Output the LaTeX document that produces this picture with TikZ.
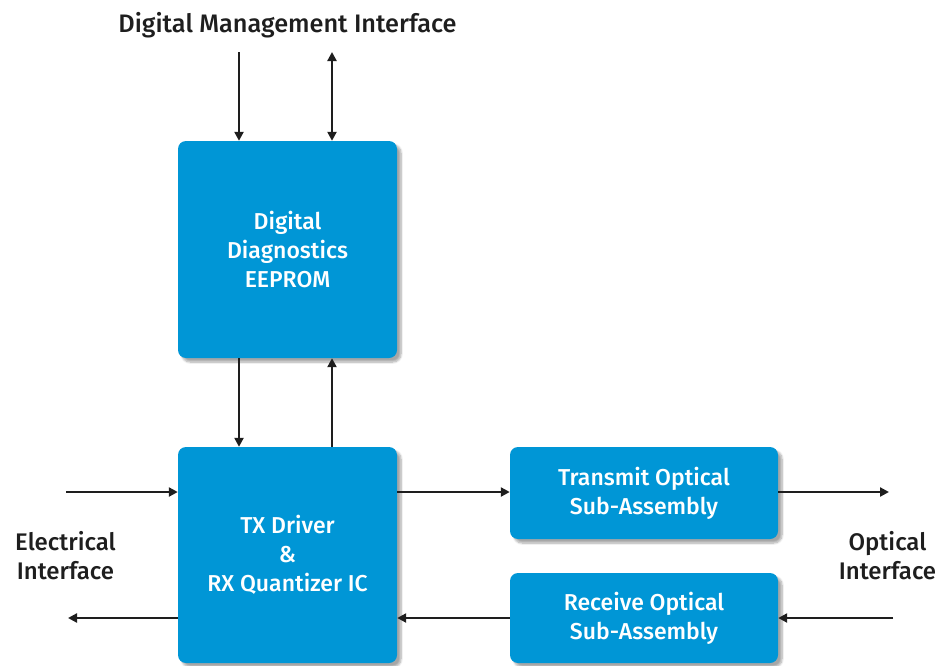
\documentclass[tikz,border=0pt]{standalone}
\usepackage{fontspec}
\setmainfont{Fira Sans}[UprightFont=* Medium, BoldFont=* SemiBold]
\usetikzlibrary{arrows.meta,shadows.blur}
\definecolor{boxblue}{RGB}{0,150,214}
\definecolor{ink}{RGB}{30,30,30}
\begin{document}
\begin{tikzpicture}[x=1pt,y=-1pt,
  blk/.style={fill=boxblue, rounded corners=8pt, text=white, align=center,
    font=\fontsize{23}{29}\selectfont, inner sep=0pt,
    blur shadow={shadow xshift=4pt, shadow yshift=-4pt, shadow blur steps=8, shadow opacity=35}},
  lbl/.style={text=ink, align=center, font=\fontsize{24}{29}\selectfont, inner sep=0pt},
  arr/.style={draw=ink, line width=2.6pt, -{Triangle[length=9pt,width=9pt]}},
  darr/.style={draw=ink, line width=2.6pt, {Triangle[length=9pt,width=9pt]}-{Triangle[length=9pt,width=9pt]}}]
\useasboundingbox (0,0) rectangle (939,665);
\node[lbl, font=\fontsize{25.3}{30}\selectfont] (dmi) at (287.5,25) {Digital Management Interface};
\node[blk, minimum width=219pt, minimum height=217pt] (ee) at (287.5,249.5) {Digital\\Diagnostics\\EEPROM};
\node[blk, minimum width=219pt, minimum height=216pt] (tx) at (287.5,555) {TX Driver\\\&\\RX Quantizer IC};
\node[blk, minimum width=268pt, minimum height=92pt] (tosa) at (644,493) {Transmit Optical\\Sub-Assembly};
\node[blk, minimum width=268pt, minimum height=90pt] (rosa) at (644,618) {Receive Optical\\Sub-Assembly};
\node[lbl] (elec) at (65.5,555.5) {Electrical\\Interface};
\node[lbl] (opt) at (887.5,555.5) {Optical\\Interface};
\coordinate (t1) at (239,52);
\coordinate (t2) at (332,52);
\coordinate (ein) at (66,492);
\coordinate (eout) at (68,618);
\coordinate (oout) at (889,492);
\coordinate (oin) at (893,618);
\draw[arr] (t1) -- (t1 |- ee.north);
\draw[darr] (t2) -- (t2 |- ee.north);
\draw[arr] (t1 |- ee.south) -- (t1 |- tx.north);
\draw[arr] (t2 |- tx.north) -- (t2 |- ee.south);
\draw[arr] (ein) -- (ein -| tx.west);
\draw[arr] (eout -| tx.west) -- (eout);
\draw[arr] (ein -| tx.east) -- (ein -| tosa.west);
\draw[arr] (tosa.east |- oout) -- (oout);
\draw[arr] (oin) -- (oin -| rosa.east);
\draw[arr] (oin -| rosa.west) -- (oin -| tx.east);
\end{tikzpicture}
\end{document}
